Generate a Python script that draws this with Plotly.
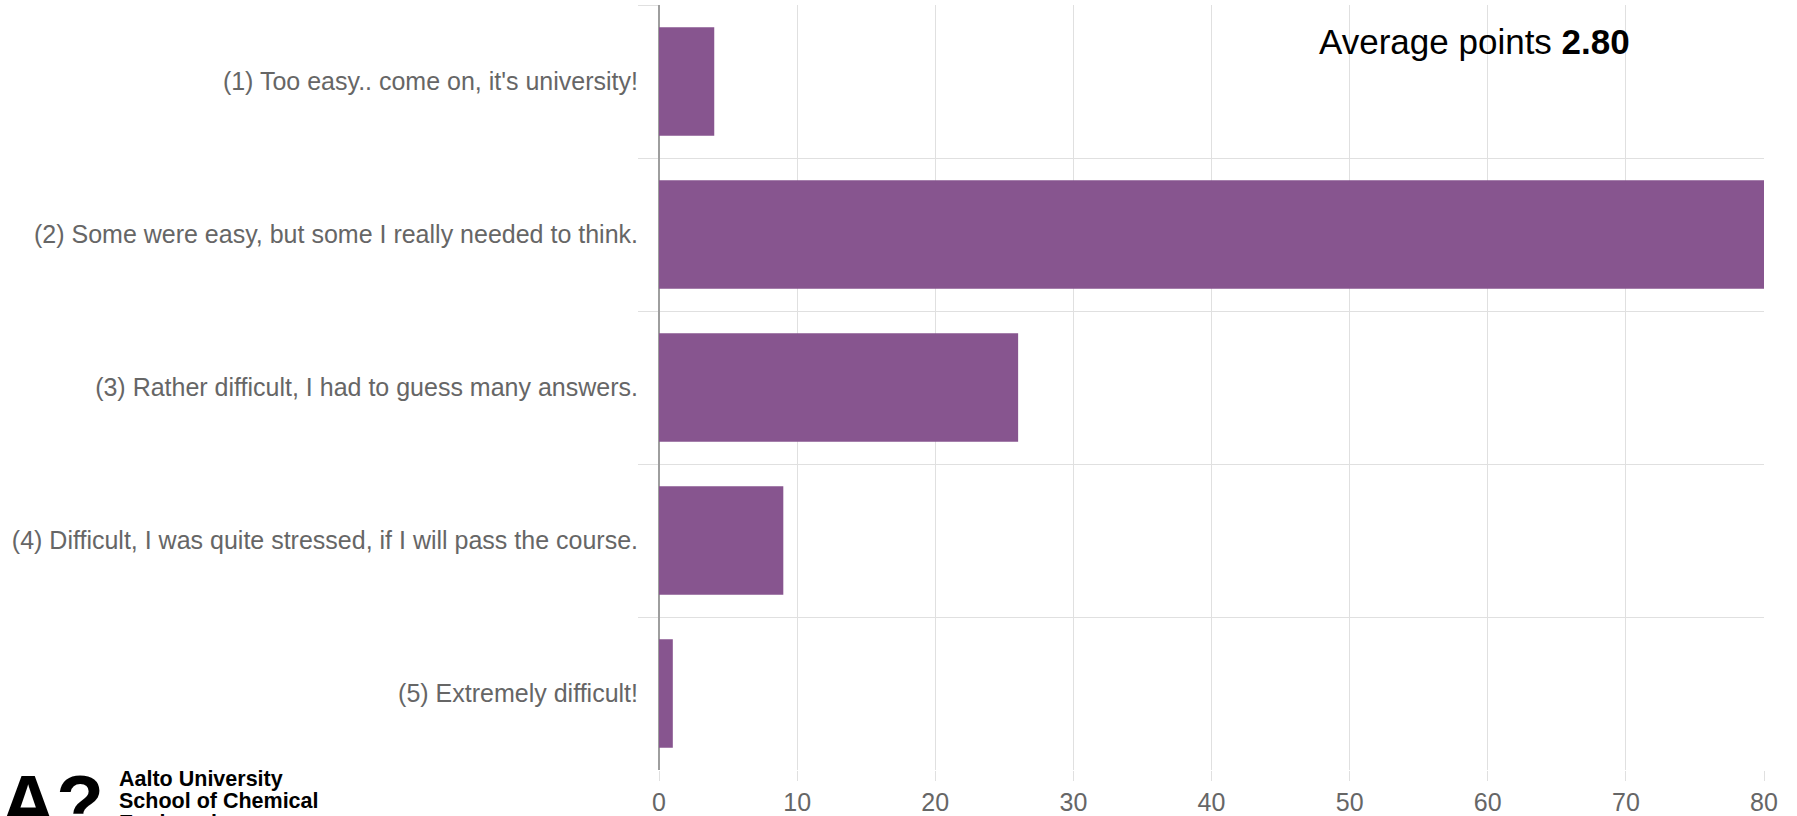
import plotly.graph_objects as go

categories = [
    "(1) Too easy.. come on, it's university!",
    "(2) Some were easy, but some I really needed to think.",
    "(3) Rather difficult, I had to guess many answers.",
    "(4) Difficult, I was quite stressed, if I will pass the course.",
    "(5) Extremely difficult!",
]
counts = [4, 80, 26, 9, 1]
x_ticks = [0, 10, 20, 30, 40, 50, 60, 70, 80]
average_text = "Average points <b>2.80</b>"
logo_lines = ["Aalto University", "School of Chemical", "Engineering"]

W, H = 1797, 816
L, R, T, B = 659, 33, 5, 46
PW, PH = W - L - R, H - T - B


def px(x):
    return (x - L) / PW


def py(y):
    return (H - B - y) / PH


FONT = "Liberation Sans, Arial, sans-serif"
GRID = "#e0e0e0"

fig = go.Figure(
    go.Bar(
        x=counts,
        y=categories,
        orientation="h",
        marker=dict(color="#87558F", line=dict(width=0)),
        hoverinfo="x+y",
    )
)

fig.update_layout(
    template="none",
    width=W,
    height=H,
    autosize=False,
    margin=dict(l=L, r=R, t=T, b=B, pad=0, autoexpand=False),
    paper_bgcolor="white",
    plot_bgcolor="white",
    bargap=0.29,
    showlegend=False,
    font=dict(family=FONT, color="#666666"),
)

fig.update_yaxes(
    type="category",
    categoryorder="array",
    categoryarray=categories,
    autorange="reversed",
    tickson="boundaries",
    ticks="outside",
    ticklen=20,
    tickcolor=GRID,
    tickwidth=1,
    ticklabelstandoff=20,
    showgrid=True,
    gridcolor=GRID,
    gridwidth=1,
    tickfont=dict(size=25, color="#666666", family=FONT),
    showline=False,
    zeroline=False,
    automargin=False,
)

fig.update_xaxes(
    range=[0, 80],
    tickvals=x_ticks,
    ticktext=[str(v) for v in x_ticks],
    ticks="outside",
    ticklen=10,
    tickcolor=GRID,
    tickwidth=1,
    showgrid=True,
    gridcolor=GRID,
    gridwidth=1,
    zeroline=True,
    zerolinecolor="#9e9e9e",
    zerolinewidth=2,
    tickfont=dict(size=25, color="#666666", family=FONT),
    showline=False,
    automargin=False,
)

annotations = [
    dict(
        text=average_text,
        xref="paper", yref="paper",
        x=px(1317), y=py(41),
        xanchor="left", yanchor="middle",
        showarrow=False,
        font=dict(size=35, color="#000000", family=FONT),
    ),
    dict(
        text="<b>A?</b>",
        xref="paper", yref="paper",
        x=px(-2), y=py(757),
        xanchor="left", yanchor="top",
        showarrow=False,
        font=dict(size=78, color="#000000", family=FONT),
    ),
]
for i, line in enumerate(logo_lines):
    annotations.append(
        dict(
            text="<b>%s</b>" % line,
            xref="paper", yref="paper",
            x=px(117), y=py(779 + 22 * i),
            xanchor="left", yanchor="middle",
            showarrow=False,
            font=dict(size=21.5, color="#000000", family=FONT),
        )
    )

fig.update_layout(annotations=annotations)

fig.write_html("out.html")
